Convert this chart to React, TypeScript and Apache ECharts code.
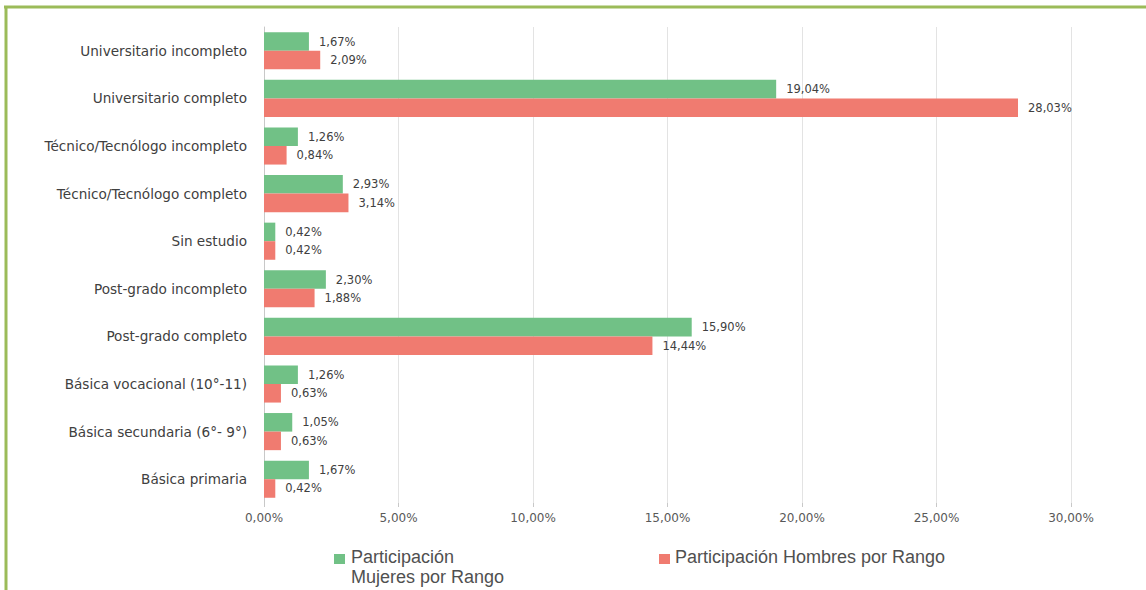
import React, { useEffect, useRef } from "react";
import * as echarts from "echarts";

const categories = [
  "Universitario incompleto",
  "Universitario completo",
  "Técnico/Tecnólogo incompleto",
  "Técnico/Tecnólogo completo",
  "Sin estudio",
  "Post-grado incompleto",
  "Post-grado completo",
  "Básica vocacional (10°-11)",
  "Básica secundaria (6°- 9°)",
  "Básica primaria",
];
const mujeres = [1.67, 19.04, 1.26, 2.93, 0.42, 2.3, 15.9, 1.26, 1.05, 1.67];
const hombres = [2.09, 28.03, 0.84, 3.14, 0.42, 1.88, 14.44, 0.63, 0.63, 0.42];
const seriesNames = ["Participación Mujeres por Rango", "Participación Hombres por Rango"];
const colors = ["#71c186", "#f07b70"];

const fmt = (v: number) => v.toFixed(2).replace(".", ",") + "%";

export default function App() {
  const ref = useRef<HTMLDivElement>(null);
  useEffect(() => {
    document.body.style.margin = "0";
    const chart = echarts.init(ref.current!, null, { renderer: "svg" });
    const font = "DejaVu Sans";
    const legendFont = "Liberation Sans";
    const labelStyle = {
      show: true,
      position: "right" as const,
      distance: 10,
      fontSize: 11.5,
      color: "#404040",
      fontFamily: font,
      formatter: (p: any) => fmt(p.value),
    };
    chart.setOption({
      animation: false,
      textStyle: { fontFamily: font },
      grid: { left: 264, right: 75, top: 27, bottom: 87, containLabel: false },
      xAxis: {
        type: "value",
        min: 0,
        max: 30,
        interval: 5,
        axisLine: { show: false },
        axisTick: { show: true, length: 4, lineStyle: { color: "#c8c8c8" } },
        splitLine: { show: true, lineStyle: { color: "#e3e3e3", width: 1 } },
        axisLabel: {
          formatter: (v: number) => fmt(v),
          fontSize: 12,
          color: "#595959",
          margin: 9,
          fontFamily: font,
        },
      },
      yAxis: {
        type: "category",
        data: categories,
        inverse: true,
        axisLine: { show: true, lineStyle: { color: "#c8c8c8" } },
        axisTick: { show: false },
        axisLabel: { fontSize: 13.6, color: "#404040", margin: 17, fontFamily: font },
      },
      series: [
        {
          name: seriesNames[0],
          type: "bar",
          data: mujeres,
          itemStyle: { color: colors[0] },
          barGap: "0%",
          barCategoryGap: "22%",
          label: labelStyle,
        },
        {
          name: seriesNames[1],
          type: "bar",
          data: hombres,
          itemStyle: { color: colors[1] },
          barGap: "0%",
          barCategoryGap: "22%",
          label: labelStyle,
        },
      ],
      graphic: [
        { type: "line", shape: { x1: 4, y1: 7, x2: 1146, y2: 7 }, style: { stroke: "#9bbb59", lineWidth: 3 } },
        { type: "line", shape: { x1: 6, y1: 6, x2: 6, y2: 590 }, style: { stroke: "#9bbb59", lineWidth: 3 } },
        { type: "rect", shape: { x: 334, y: 554, width: 11, height: 10 }, style: { fill: colors[0] } },
        {
          type: "text",
          x: 351,
          y: 547,
          style: {
            text: "Participación\nMujeres por Rango",
            fontSize: 18,
            lineHeight: 20,
            fill: "#505050",
            fontFamily: legendFont,
          },
        },
        { type: "rect", shape: { x: 659, y: 554, width: 11, height: 10 }, style: { fill: colors[1] } },
        {
          type: "text",
          x: 675,
          y: 547,
          style: {
            text: "Participación Hombres por Rango",
            fontSize: 18,
            lineHeight: 20,
            fill: "#505050",
            fontFamily: legendFont,
          },
        },
      ],
    });
    return () => chart.dispose();
  }, []);
  return (
    <div
      ref={ref}
      style={{ position: "absolute", left: 0, top: 0, width: 1146, height: 590, background: "#fff" }}
    />
  );
}
